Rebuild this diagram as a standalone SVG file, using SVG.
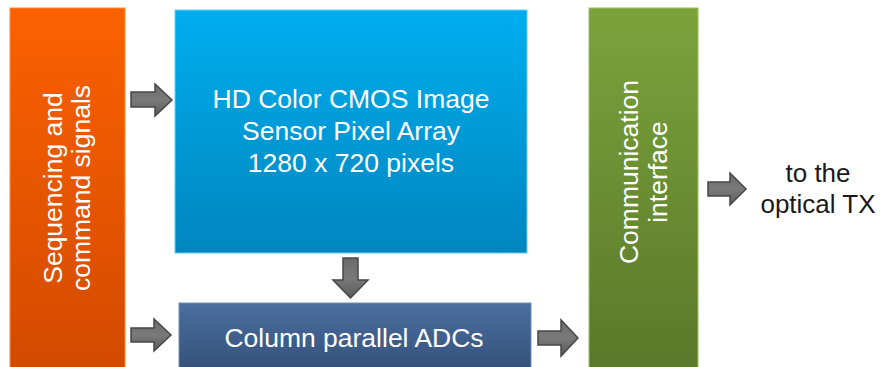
<svg xmlns="http://www.w3.org/2000/svg" width="880" height="367" viewBox="0 0 880 367">
<style>
.t{font-family:"Liberation Sans",Arial,sans-serif;font-size:26.5px;fill:#ffffff;text-anchor:middle}
.d{font-family:"Liberation Sans",Arial,sans-serif;font-size:26px;fill:#1a1a1a;text-anchor:middle}
.arr{fill:url(#ga);stroke:#474747;stroke-width:1.5;stroke-linejoin:miter}
</style>
<defs>
<linearGradient id="go" x1="0" y1="0" x2="0" y2="1"><stop offset="0" stop-color="#fb6100"/><stop offset="1" stop-color="#d24a00"/></linearGradient>
<linearGradient id="gb" x1="0" y1="0" x2="0" y2="1"><stop offset="0" stop-color="#00aeef"/><stop offset="1" stop-color="#0086bf"/></linearGradient>
<linearGradient id="gn" x1="0" y1="0" x2="0" y2="1"><stop offset="0" stop-color="#4a6fa0"/><stop offset="1" stop-color="#344f78"/></linearGradient>
<linearGradient id="gg" x1="0" y1="0" x2="0" y2="1"><stop offset="0" stop-color="#7aa33b"/><stop offset="1" stop-color="#5a782a"/></linearGradient>
<linearGradient id="ga" x1="0" y1="0" x2="0" y2="1"><stop offset="0" stop-color="#6a6a6a"/><stop offset="0.5" stop-color="#7a7a7a"/><stop offset="1" stop-color="#5a5a5a"/></linearGradient>
</defs>
<rect width="880" height="367" fill="#ffffff"/>
<g id="seq">
<rect x="10" y="8" width="115" height="365" fill="url(#go)" stroke="#ff8a3d" stroke-width="1"/>
<text class="t" transform="translate(67,188) rotate(-90)"><tspan x="0" y="-5">Sequencing and</tspan><tspan x="0" y="23">command signals</tspan></text>
</g>
<g id="pixel">
<rect x="175" y="10" width="352" height="243" fill="url(#gb)" stroke="#66d0f5" stroke-width="1"/>
<text class="t" x="351" y="108">HD Color CMOS Image</text>
<text class="t" x="351" y="140">Sensor Pixel Array</text>
<text class="t" x="351" y="172">1280 x 720 pixels</text>
</g>
<g id="adc">
<rect x="179" y="303" width="352" height="70" fill="url(#gn)" stroke="#6f8fb8" stroke-width="1"/>
<text class="t" x="354" y="347">Column parallel ADCs</text>
</g>
<g id="comm">
<rect x="589" y="8" width="109" height="365" fill="url(#gg)" stroke="#9cc060" stroke-width="1"/>
<text class="t" transform="translate(643,172) rotate(-90)"><tspan x="0" y="-5">Communication</tspan><tspan x="0" y="24">interface</tspan></text>
</g>
<g id="out">
<text class="d" x="818" y="182">to the</text>
<text class="d" x="818" y="213">optical TX</text>
</g>
<g id="connectors">
<path class="arr" d="M131,92 H155 V84 L172,100 L155,116 V107 H131 Z"/>
<path class="arr" d="M131,328 H154 V319 L171,335 L154,351 V342 H131 Z"/>
<path class="arr" d="M343,258 H358 V280 H368 L350.5,298 L333,280 H343 Z"/>
<path class="arr" d="M538,331 H561 V320 L578,338 L561,356 V345 H538 Z"/>
<path class="arr" d="M708,182 H730 V173 L746,189 L730,205 V196 H708 Z"/>
</g>
</svg>
